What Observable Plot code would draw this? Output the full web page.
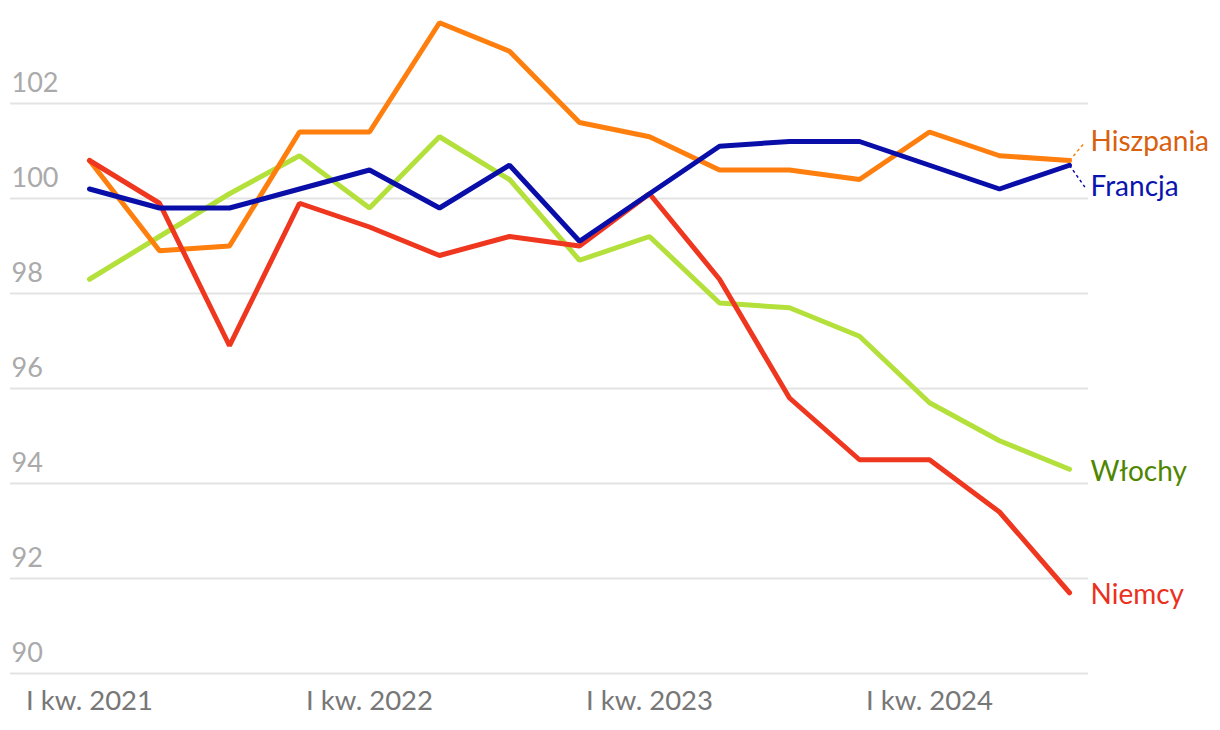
<!DOCTYPE html>
<html>
<head>
<meta charset="utf-8">
<script src="https://cdn.jsdelivr.net/npm/d3@7"></script>
<script src="https://cdn.jsdelivr.net/npm/@observablehq/plot@0.6"></script>
<style>
  html, body { margin: 0; padding: 0; background: #fff; }
  #chart { width: 1220px; height: 730px; }
  svg { font-family: Lato, "Noto Sans", sans-serif; }
</style>
</head>
<body>
<div id="chart"></div>
<script>
const quarters = ["I kw. 2021","II kw. 2021","III kw. 2021","IV kw. 2021",
  "I kw. 2022","II kw. 2022","III kw. 2022","IV kw. 2022",
  "I kw. 2023","II kw. 2023","III kw. 2023","IV kw. 2023",
  "I kw. 2024","II kw. 2024","III kw. 2024"];
const tickLabels = ["I kw. 2021","I kw. 2022","I kw. 2023","I kw. 2024"];
const yTicks = [90, 92, 94, 96, 98, 100, 102];

const hiszpania = [100.8, 98.9, 99.0, 101.4, 101.4, 103.7, 103.1, 101.6, 101.3, 100.6, 100.6, 100.4, 101.4, 100.9, 100.8];
const francja   = [100.2, 99.8, 99.8, 100.2, 100.6, 99.8, 100.7, 99.1, 100.1, 101.1, 101.2, 101.2, 100.7, 100.2, 100.7];
const wlochy    = [98.3, 99.2, 100.1, 100.9, 99.8, 101.3, 100.4, 98.7, 99.2, 97.8, 97.7, 97.1, 95.7, 94.9, 94.3];
const niemcy    = [100.8, 99.9, 96.9, 99.9, 99.4, 98.8, 99.2, 99.0, 100.1, 98.3, 95.8, 94.5, 94.5, 93.4, 91.7];

const seriesNames = ["Włochy", "Hiszpania", "Niemcy", "Francja"];
const seriesValues = { "Hiszpania": hiszpania, "Francja": francja, "Włochy": wlochy, "Niemcy": niemcy };
const lineColors = { "Hiszpania": "#ff7f0e", "Francja": "#0a0ea8", "Włochy": "#b3e03a", "Niemcy": "#ef3720" };
const labelColors = { "Hiszpania": "#d8600e", "Francja": "#0a14ae", "Włochy": "#4f8600", "Niemcy": "#eb3020" };
const labelValues = { "Hiszpania": 101.18, "Francja": 100.24, "Włochy": 94.25, "Niemcy": 91.65 };

const rows = [];
for (const s of seriesNames) {
  seriesValues[s].forEach((v, i) => rows.push({ series: s, i, q: quarters[i], value: v }));
}
const last = quarters.length - 1;
const labels = seriesNames.map(s => ({ series: s, i: last, end: seriesValues[s][last], value: labelValues[s] }));
const connectors = labels.filter(d => Math.abs(d.end - d.value) > 0.2);

const chart = Plot.plot({
  width: 1220,
  height: 730,
  marginLeft: 10,
  marginRight: 132,
  marginTop: 0,
  marginBottom: 57,
  x: { domain: [0, last], range: [89, 1069], axis: null },
  y: { domain: [90, 102], range: [673, 103], axis: null },
  marks: [
    Plot.ruleY(yTicks, { stroke: "#e3e3e3", strokeWidth: 2 }),
    Plot.text(yTicks, { y: d => d, frameAnchor: "left", dx: 1, dy: -20, text: d => String(d), textAnchor: "start", fill: "#aaaaaa", fontSize: 27 }),
    Plot.text(tickLabels, { x: d => quarters.indexOf(d), y: 90, dy: 28, text: d => d, fill: "#777777", fontSize: 27.5 }),
    Plot.line(rows, { x: "i", y: "value", z: "series", stroke: d => lineColors[d.series], strokeWidth: 5, strokeLinejoin: "miter", strokeLinecap: "round" }),
    Plot.link(connectors, { x1: "i", y1: "end", x2: d => d.i + 0.22, y2: "value", stroke: d => lineColors[d.series], strokeWidth: 1.5, strokeDasharray: "3,3" }),
    Plot.text(labels, { x: "i", y: "value", dx: 21, text: "series", textAnchor: "start", fill: d => labelColors[d.series], fontSize: 28 })
  ]
});
document.getElementById("chart").appendChild(chart);
</script>
</body>
</html>
